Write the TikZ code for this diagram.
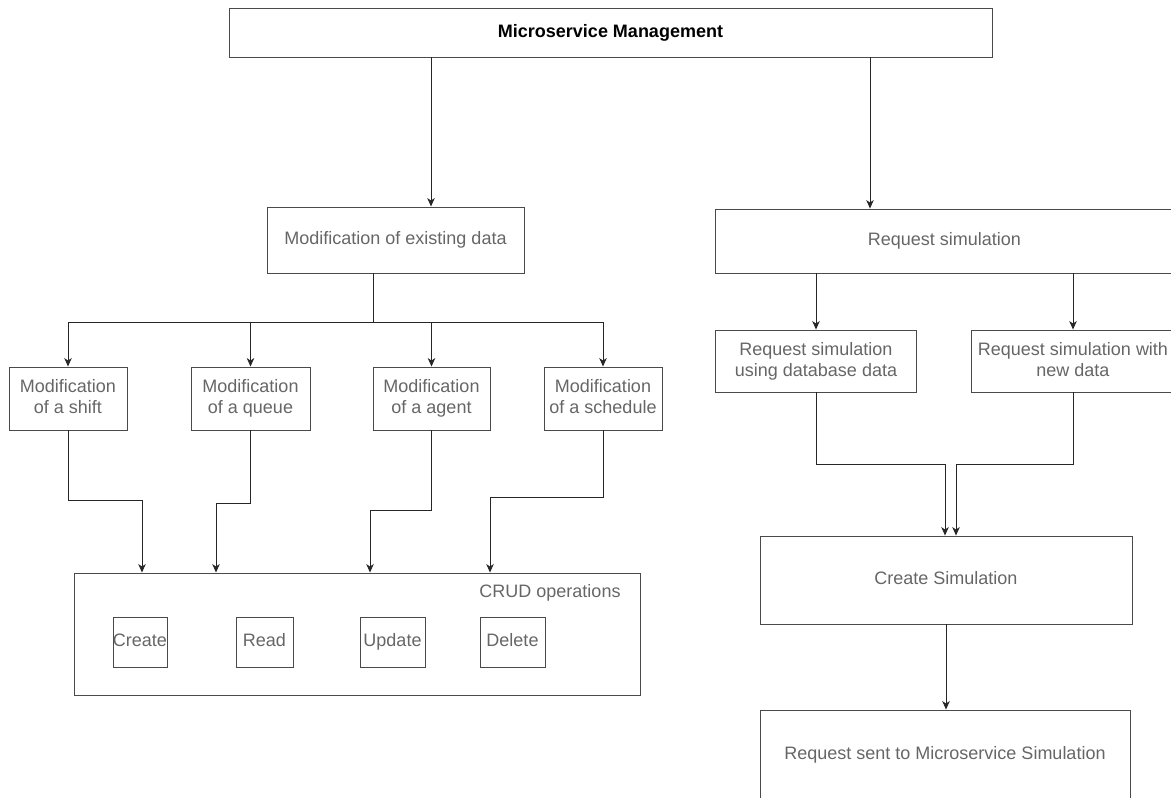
\documentclass[tikz,border=0pt]{standalone}
\usepackage{fontspec}
\setmainfont{Liberation Sans}
\usetikzlibrary{arrows.meta,positioning,calc}

\definecolor{boxline}{HTML}{4A4A4A}
\definecolor{boxtext}{HTML}{666666}

\begin{document}
\begin{tikzpicture}[x=1pt, y=-1pt,
  % Node styles
  box/.style={draw=boxline, line width=0.9pt, inner sep=0pt, align=center,
              text=boxtext, text depth=4pt, font=\fontsize{18}{21}\selectfont},
  head/.style={box, text=black, font=\fontsize{18}{21}\selectfont\bfseries},
  op/.style={box, minimum width=54pt, minimum height=50pt, text height=13pt},
  % Arrow styles
  arr/.style={-{Stealth[length=8.5pt, width=7.5pt, inset=2.5pt]}, line width=0.9pt, black!85},
  ln/.style={line width=0.9pt, black!85},
]
\useasboundingbox (0,0) rectangle (1171,798);

% === Top ===
\node[head, minimum width=763pt, minimum height=49pt] (top) at (610.5,32.5) {Microservice Management};

% === Left branch ===
\node[box, minimum width=257pt, minimum height=66pt] (mod) at (395.5,240) {Modification of existing data};

\node[box, minimum width=118pt, minimum height=63pt] (shift) at (68,398.5)  {Modification\\of a shift};
\node[box, minimum width=119pt, minimum height=63pt] (queue) at (250.5,398.5) {Modification\\of a queue};
\node[box, minimum width=117pt, minimum height=63pt] (agent) at (431.5,398.5) {Modification\\of a agent};
\node[box, minimum width=118pt, minimum height=63pt] (sched) at (603,398.5) {Modification\\of a schedule};

\node[box, minimum width=566pt, minimum height=122pt] (crud) at (357,634) {};
\node[box, draw=none, anchor=east] (crudlbl) at (621,593) {CRUD operations};
\node[op] (create) at (140,642)   {Create};
\node[op, minimum width=57pt] (read)   at (264.5,642) {Read};
\node[op, minimum width=65pt] (update) at (392.5,642) {Update};
\node[op, minimum width=65pt] (delete) at (512.5,642) {Delete};

% === Right branch ===
\node[box, minimum width=459pt, minimum height=64pt] (req) at (944.5,241) {Request simulation};
\node[box, minimum width=201pt, minimum height=62pt] (reqdb)  at (816,361) {Request simulation\\using database data};
\node[box, minimum width=204pt, minimum height=62pt] (reqnew) at (1073,361) {Request simulation with\\new data};
\node[box, minimum width=372pt, minimum height=88pt] (sim)  at (946,580) {Create Simulation};
\node[box, minimum width=370pt, minimum height=90pt] (sent) at (945,755) {Request sent to Microservice Simulation};

% === Arrows from top ===
\draw[arr] ([xshift=35.5pt]mod.north |- top.south) -- ([xshift=35.5pt]mod.north);
\draw[arr] ([xshift=-74.5pt]req.north |- top.south) -- ([xshift=-74.5pt]req.north);

% === Fan out to modifications ===
\draw[ln] ([xshift=-22.5pt]mod.south) -- ++(0,49) coordinate (split);
\draw[arr] (split) -| (shift.north);
\draw[arr] (split) -| (queue.north);
\draw[arr] (split) -| (agent.north);
\draw[arr] (split) -| (sched.north);

% === Modifications into CRUD ===
\draw[arr] (shift.south) -- ++(0,70) -| ([xshift=-215pt]crud.north);
\draw[arr] (queue.south) -- ++(0,73) -| ([xshift=-141pt]crud.north);
\draw[arr] (agent.south) -- ++(0,80) -| ([xshift=13pt]crud.north);
\draw[arr] (sched.south) -- ++(0,67) -| ([xshift=133pt]crud.north);

% === Simulation requests ===
\draw[arr] (reqdb.north |- req.south) -- (reqdb.north);
\draw[arr] (reqnew.north |- req.south) -- (reqnew.north);
\draw[arr] (reqdb.south) -- ++(0,72) -| ([xshift=-1pt]sim.north);
\draw[arr] (reqnew.south) -- ++(0,72) -| ([xshift=10pt]sim.north);
\draw[arr] (sim.south) -- (sim.south |- sent.north);

\end{tikzpicture}
\end{document}
